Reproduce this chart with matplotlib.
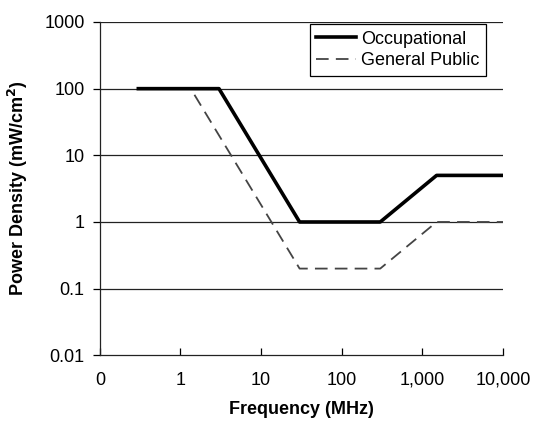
import matplotlib.pyplot as plt
from matplotlib.ticker import FixedLocator, NullLocator

plt.rcParams['font.family'] = ['Liberation Sans', 'DejaVu Sans']

## Limits (MHz vs mW/cm^2)
occ_freq = [0.3, 3, 30, 300, 1500, 10000]
occ_power = [100, 100, 1, 1, 5, 5]
pub_freq = [0.3, 1.34, 30, 300, 1500, 10000]
pub_power = [100, 100, 0.2, 0.2, 1, 1]

x_ticks = [0.1, 1, 10, 100, 1000, 10000]
x_labels = ['0', '1', '10', '100', '1,000', '10,000']
y_ticks = [0.01, 0.1, 1, 10, 100, 1000]
y_labels = ['0.01', '0.1', '1', '10', '100', '1000']

fig = plt.figure(figsize=(5.34, 4.23), dpi=100)
ax = fig.add_axes([0.187, 0.16, 0.755, 0.788])

ax.set_xscale('log')
ax.set_yscale('log')
ax.set_xlim(0.1, 10000)
ax.set_ylim(0.01, 1000)

for y in y_ticks[1:]:
    ax.axhline(y, color='#222222', lw=0.9, zorder=1)

ax.plot(occ_freq, occ_power, color='black', lw=2.6, label='Occupational', zorder=3)
ax.plot(pub_freq, pub_power, color='#444444', lw=1.3, ls=(0, (7, 4)), label='General Public', zorder=2)

ax.xaxis.set_major_locator(FixedLocator(x_ticks))
ax.xaxis.set_minor_locator(NullLocator())
ax.yaxis.set_major_locator(FixedLocator(y_ticks))
ax.yaxis.set_minor_locator(NullLocator())
ax.set_xticklabels(x_labels, fontsize=13)
ax.set_yticklabels(y_labels, fontsize=13)
ax.tick_params(axis='x', direction='in', length=5, width=0.9, pad=12)
ax.tick_params(axis='y', direction='out', length=5, width=0.9, pad=6)

for s in ['top', 'right']:
    ax.spines[s].set_visible(False)
for s in ['left', 'bottom']:
    ax.spines[s].set_color('#222222')
    ax.spines[s].set_linewidth(0.9)

ax.set_xlabel('Frequency (MHz)', fontsize=13, fontweight='bold', labelpad=9)
ax.set_ylabel('Power Density (mW/cm$^\\mathbf{2}$)', fontsize=13, fontweight='bold', labelpad=10)

leg = ax.legend(loc='upper right', bbox_to_anchor=(0.98, 1.02), fontsize=13,
                fancybox=False, framealpha=1, edgecolor='black',
                handlelength=2.2, handletextpad=0.3, borderpad=0.35, labelspacing=0.25)
leg.get_frame().set_linewidth(0.9)

fig.savefig('out.png', dpi=100)
